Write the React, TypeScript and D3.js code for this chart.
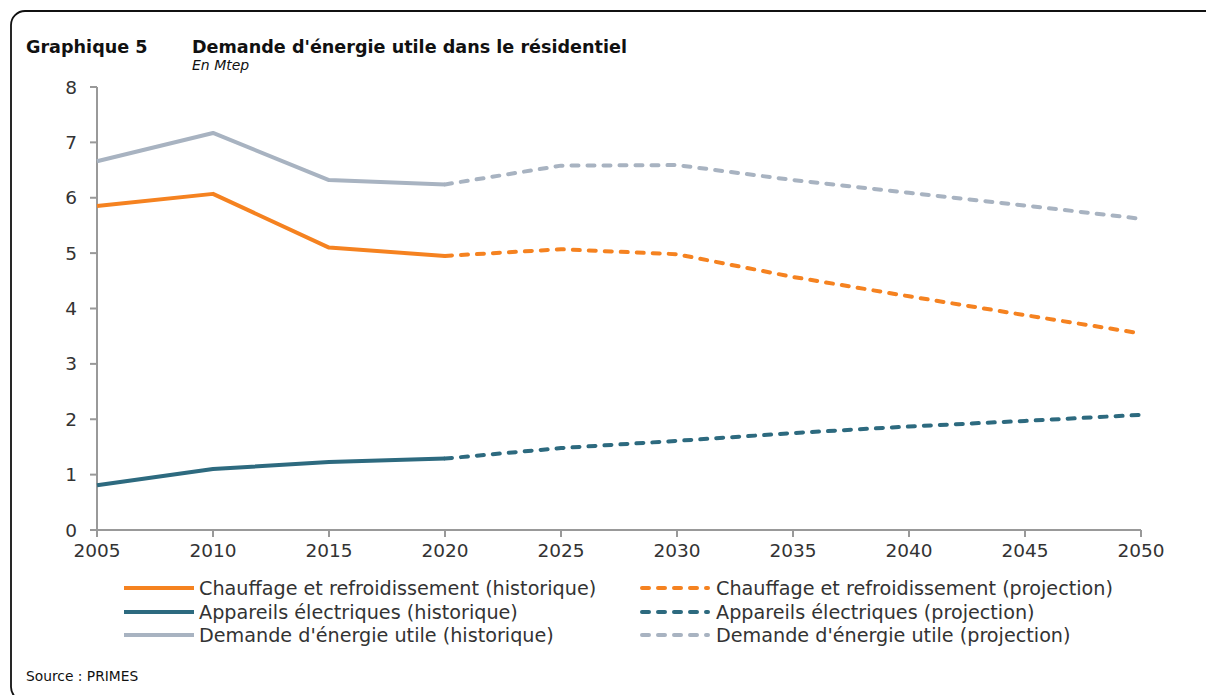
import React from "react";
import * as d3 from "d3";

const years = [2005, 2010, 2015, 2020, 2025, 2030, 2035, 2040, 2045, 2050];
const chauffage = [5.85, 6.07, 5.1, 4.95, 5.07, 4.98, 4.57, 4.22, 3.88, 3.55];
const appareils = [0.81, 1.1, 1.23, 1.29, 1.48, 1.61, 1.75, 1.87, 1.97, 2.08];
const demande = [6.66, 7.17, 6.32, 6.24, 6.58, 6.59, 6.32, 6.09, 5.86, 5.62];
const yTicks = [0, 1, 2, 3, 4, 5, 6, 7, 8];
const lastHistYear = 2020;

const seriesNames = [
  "Chauffage et refroidissement",
  "Appareils électriques",
  "Demande d'énergie utile",
];
const colors = ["#F58220", "#2D6A7F", "#A8B3C1"];
const seriesData = [chauffage, appareils, demande];

const W = 1206;
const H = 695;
const FONT = "'DejaVu Sans', sans-serif";

export default function App() {
  const x = d3.scaleLinear().domain([2005, 2050]).range([97, 1141]);
  const y = d3.scaleLinear().domain([0, 8]).range([530, 87]);
  const line = d3
    .line<[number, number]>()
    .x((d) => x(d[0]))
    .y((d) => y(d[1]));

  const legendRows = [588, 612, 635];

  return (
    <svg
      width={W}
      height={H}
      style={{ position: "absolute", left: 0, top: 0 }}
      fontFamily={FONT}
    >
      <rect x={0} y={0} width={W} height={H} fill="#fff" />
      <rect
        x={11}
        y={11}
        width={1400}
        height={690}
        rx={14}
        fill="none"
        stroke="#111"
        strokeWidth={1.8}
      />
      <text x={26} y={53} fontSize={17.6} fontWeight="bold" fill="#111">
        Graphique 5
      </text>
      <text x={192} y={53} fontSize={17.6} fontWeight="bold" fill="#111">
        Demande d'énergie utile dans le résidentiel
      </text>
      <text x={192} y={70} fontSize={14} fontStyle="italic" fill="#111">
        En Mtep
      </text>

      {/* axes */}
      <line x1={x(2005)} x2={x(2005)} y1={y(8)} y2={y(0)} stroke="#999" strokeWidth={2} />
      <line x1={x(2005)} x2={x(2050)} y1={y(0)} y2={y(0)} stroke="#999" strokeWidth={2} />
      {yTicks.map((t) => (
        <g key={t}>
          <line x1={x(2005) - 7} x2={x(2005)} y1={y(t)} y2={y(t)} stroke="#999" strokeWidth={2} />
          <text
            x={77}
            y={y(t) + 6.5}
            textAnchor="end"
            fontSize={18.5}
            fill="#333"
          >
            {t}
          </text>
        </g>
      ))}
      {years.map((yr) => (
        <g key={yr}>
          <line x1={x(yr)} x2={x(yr)} y1={y(0)} y2={y(0) + 7} stroke="#999" strokeWidth={2} />
          <text x={x(yr)} y={557} textAnchor="middle" fontSize={18.5} fill="#333">
            {yr}
          </text>
        </g>
      ))}

      {/* series */}
      {seriesData.map((vals, i) => {
        const pts: [number, number][] = years.map((yr, j) => [yr, vals[j]]);
        const hist = pts.filter((p) => p[0] <= lastHistYear);
        const proj = pts.filter((p) => p[0] >= lastHistYear);
        return (
          <g key={i}>
            <path
              d={line(hist) || ""}
              fill="none"
              stroke={colors[i]}
              strokeWidth={4}
              strokeLinejoin="round"
            />
            <path
              d={line(proj) || ""}
              fill="none"
              stroke={colors[i]}
              strokeWidth={4}
              strokeDasharray="7,9"
              strokeLinecap="round"
              strokeLinejoin="round"
            />
          </g>
        );
      })}

      {/* legend */}
      {seriesNames.map((name, i) => (
        <g key={name}>
          <line x1={124} x2={194} y1={legendRows[i]} y2={legendRows[i]} stroke={colors[i]} strokeWidth={4} />
          <text x={199} y={legendRows[i] + 7} fontSize={19.2} fill="#333">
            {name} (historique)
          </text>
          <line
            x1={642}
            x2={708}
            y1={legendRows[i]}
            y2={legendRows[i]}
            stroke={colors[i]}
            strokeWidth={4}
            strokeDasharray="7,9"
            strokeLinecap="round"
          />
          <text x={716} y={legendRows[i] + 7} fontSize={19.2} fill="#333">
            {name} (projection)
          </text>
        </g>
      ))}

      <text x={26} y={681} fontSize={13.8} fill="#111">
        Source : PRIMES
      </text>
    </svg>
  );
}
